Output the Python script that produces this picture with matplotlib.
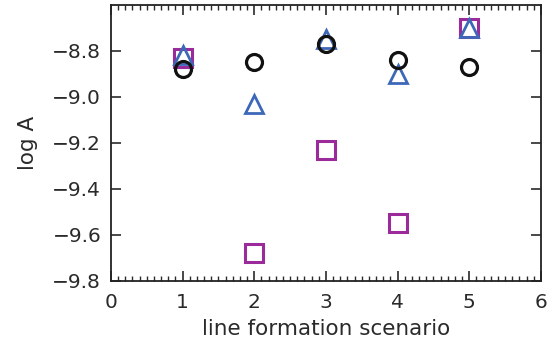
import matplotlib
matplotlib.use("Agg")
import matplotlib.pyplot as plt
from matplotlib.ticker import MultipleLocator

scenarios = [1, 2, 3, 4, 5]
circles = [-8.88, -8.85, -8.77, -8.84, -8.87]
triangles = [-8.82, -9.03, -8.75, -8.90, -8.70]
squares = [-8.83, -9.68, -9.23, -9.55, -8.70]
ytick_vals = [-9.8, -9.6, -9.4, -9.2, -9.0, -8.8]
ytick_labels = ['\u22129.8', '\u22129.6', '\u22129.4', '\u22129.2', '\u22129.0', '\u22128.8']

plt.rcParams['font.family'] = ['DejaVu Sans']

fig = plt.figure(figsize=(5.6, 3.49), dpi=100)
ax = fig.add_axes([0.198, 0.195, 0.768, 0.791])

ax.plot(scenarios, squares, linestyle='none', marker='s', markersize=12.5,
        markerfacecolor='none', markeredgecolor='#9b2a9b', markeredgewidth=2.2)
ax.plot(scenarios, triangles, linestyle='none', marker='^', markersize=13,
        markerfacecolor='none', markeredgecolor='#3d68b8', markeredgewidth=2.0)
ax.plot(scenarios, circles, linestyle='none', marker='o', markersize=11.5,
        markerfacecolor='none', markeredgecolor='#111111', markeredgewidth=2.3)

ax.set_xlim(0, 6)
ax.set_ylim(-9.8, -8.6)
ax.xaxis.set_major_locator(MultipleLocator(1))
ax.xaxis.set_minor_locator(MultipleLocator(0.1))
ax.set_yticks(ytick_vals)
ax.set_yticklabels(ytick_labels)

ax.tick_params(which='both', direction='in', top=True, right=True, labelsize=14.5, colors='#2a2a2a')
ax.tick_params(which='major', length=7, width=1.2)
ax.tick_params(which='minor', length=3.5, width=1.0)
ax.tick_params(axis='x', pad=9)
ax.tick_params(axis='y', pad=7)
for s in ax.spines.values():
    s.set_linewidth(1.3)
    s.set_color('#222222')

ax.set_xlabel('line formation scenario', fontsize=15.5, color='#2a2a2a', labelpad=5)
ax.set_ylabel('log A', fontsize=15.5, color='#2a2a2a', labelpad=10)

fig.savefig('out.png', dpi=100)
